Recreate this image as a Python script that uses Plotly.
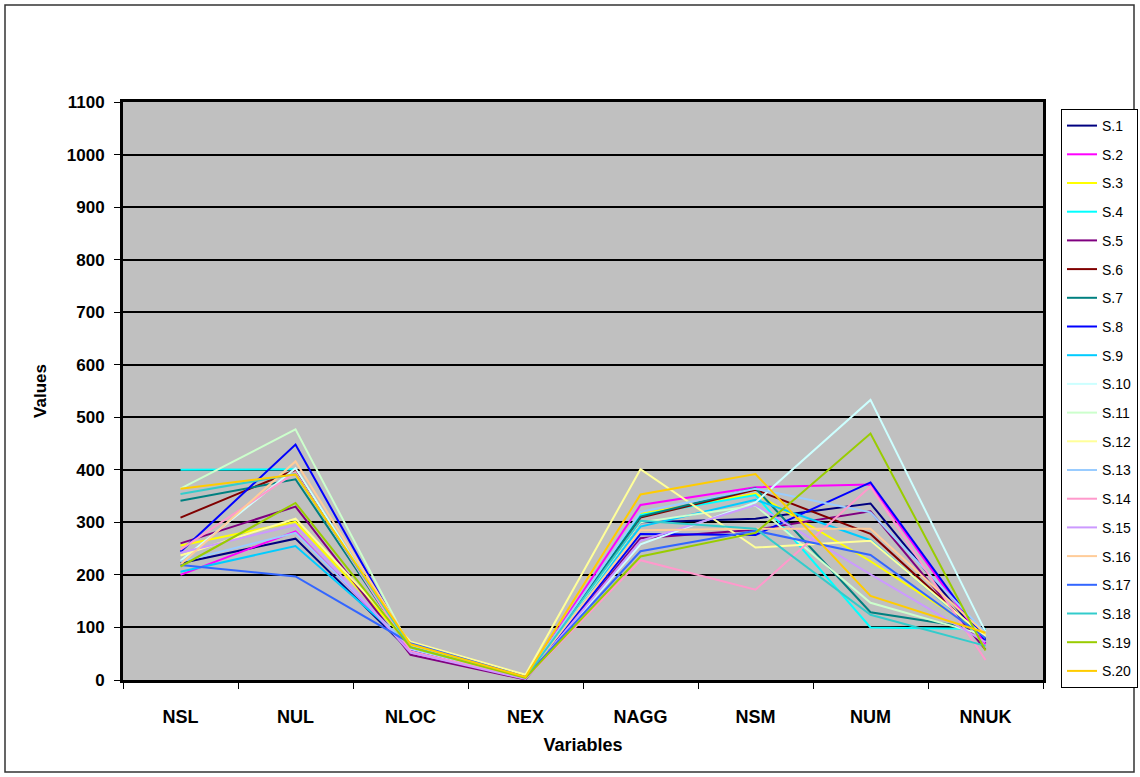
import plotly.graph_objects as go

# Category axis and series data
variables = ["NSL", "NUL", "NLOC", "NEX", "NAGG", "NSM", "NUM", "NNUK"]
series_names = ["S.1", "S.2", "S.3", "S.4", "S.5", "S.6", "S.7", "S.8", "S.9", "S.10",
                "S.11", "S.12", "S.13", "S.14", "S.15", "S.16", "S.17", "S.18", "S.19", "S.20"]

s1 = [222, 269, 54, 4, 300, 307, 336, 70]
s2 = [200, 283, 56, 3, 333, 367, 372, 68]
s3 = [256, 301, 67, 5, 316, 355, 226, 85]
s4 = [400, 401, 60, 4, 314, 352, 100, 97]
s5 = [260, 330, 48, 1, 270, 286, 321, 58]
s6 = [309, 400, 58, 3, 309, 362, 278, 78]
s7 = [341, 382, 58, 4, 311, 365, 129, 95]
s8 = [244, 448, 57, 3, 278, 276, 376, 75]
s9 = [206, 255, 64, 5, 292, 343, 266, 80]
s10 = [227, 403, 59, 4, 258, 338, 533, 92]
s11 = [364, 477, 61, 4, 300, 332, 147, 85]
s12 = [237, 307, 73, 10, 401, 252, 265, 82]
s13 = [225, 280, 60, 4, 320, 364, 319, 90]
s14 = [248, 395, 55, 3, 228, 172, 368, 38]
s15 = [242, 295, 52, 2, 265, 333, 201, 72]
s16 = [220, 416, 66, 5, 285, 288, 288, 88]
s17 = [219, 197, 70, 6, 245, 284, 238, 80]
s18 = [354, 392, 63, 5, 303, 288, 124, 65]
s19 = [216, 337, 62, 4, 235, 280, 469, 56]
s20 = [364, 391, 68, 6, 353, 392, 160, 90]

series_values = [s1, s2, s3, s4, s5, s6, s7, s8, s9, s10,
                 s11, s12, s13, s14, s15, s16, s17, s18, s19, s20]

series_colors = ["#000080", "#FF00FF", "#FFFF00", "#00FFFF", "#800080", "#800000",
                 "#008080", "#0000FF", "#00CCFF", "#CCFFFF", "#CCFFCC", "#FFFF99",
                 "#99CCFF", "#FF99CC", "#CC99FF", "#FFCC99", "#3366FF", "#33CCCC",
                 "#99CC00", "#FFCC00"]

y_ticks = list(range(0, 1101, 100))

FONT = "Liberation Sans, Arial, sans-serif"

fig = go.Figure()
for name, vals, col in zip(series_names, series_values, series_colors):
    fig.add_trace(go.Scatter(
        x=variables, y=vals, name=name, mode="lines",
        line=dict(color=col, width=2),
        legendgroup=name,
    ))

W, H = 1140, 777
L, R, T, B = 123, 97, 102, 97
PW, PH = W - L - R, H - T - B

def px_x(p):
    return (p - L) / PW

def px_y(p):
    return (H - B - p) / PH

fig.update_layout(
    width=W, height=H,
    margin=dict(l=L, r=R, t=T, b=B, autoexpand=False),
    paper_bgcolor="white",
    plot_bgcolor="#C0C0C0",
    font=dict(family=FONT, color="black"),
    showlegend=True,
    legend=dict(
        xref="container", yref="container",
        x=1061 / W, y=1 - 109 / H, xanchor="left", yanchor="top",
        bgcolor="white", bordercolor="#000000", borderwidth=1,
        font=dict(size=14, family=FONT),
        tracegroupgap=7.5,
        itemwidth=30,
        maxheight=760,
    ),
    xaxis=dict(
        type="category", range=[-0.5, 7.5],
        tickson="boundaries", ticks="outside", ticklen=6, tickcolor="black",
        tickfont=dict(size=18, family=FONT, weight="bold"),
        ticklabelstandoff=18,
        showline=True, linecolor="black", linewidth=3, mirror=True,
        showgrid=False, zeroline=False,
        title=dict(text="Variables", font=dict(size=18, family=FONT, weight="bold"), standoff=13),
    ),
    yaxis=dict(
        range=[0, 1100], tickvals=y_ticks, ticks="outside", ticklen=6, tickcolor="black",
        tickfont=dict(size=17, family=FONT, weight="bold"),
        ticklabelstandoff=6,
        showline=True, linecolor="black", linewidth=3, mirror=True,
        showgrid=True, gridcolor="#000000", gridwidth=1.5,
        zeroline=False,
        title=dict(text="Values", font=dict(size=17, family=FONT, weight="bold"), standoff=16),
    ),
)

# Outer chart border
fig.add_shape(
    type="rect", xref="paper", yref="paper",
    x0=px_x(5), x1=px_x(1134), y0=px_y(772), y1=px_y(5),
    line=dict(color="#333333", width=1.5), fillcolor="rgba(0,0,0,0)",
    layer="below",
)

fig.write_html("out.html")
